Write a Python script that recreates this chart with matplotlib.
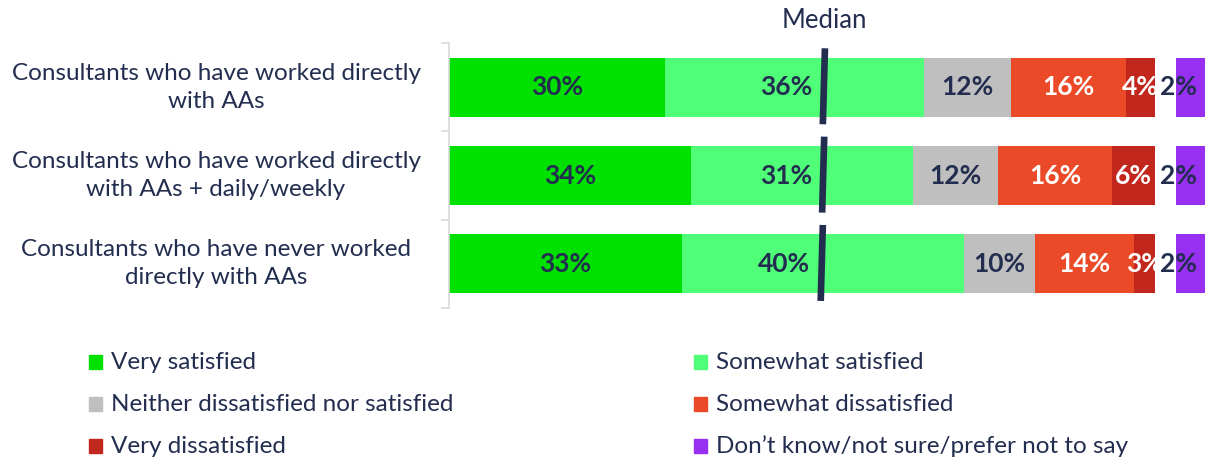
import matplotlib.pyplot as plt
from matplotlib.patches import Rectangle
import numpy as np

plt.rcParams['font.family'] = ['Lato', 'DejaVu Sans']

# Survey groups and response shares (%)
groups = [
    "Consultants who have worked directly\nwith AAs",
    "Consultants who have worked directly\nwith AAs + daily/weekly",
    "Consultants who have never worked\ndirectly with AAs",
]
responses = [
    "Very satisfied",
    "Somewhat satisfied",
    "Neither dissatisfied nor satisfied",
    "Somewhat dissatisfied",
    "Very dissatisfied",
]
very_satisfied = [30, 34, 33]
somewhat_satisfied = [36, 31, 40]
neither = [12, 12, 10]
somewhat_dissatisfied = [16, 16, 14]
very_dissatisfied = [4, 6, 3]
dont_know = [2, 2, 2]
dont_know_label = "Don\u2019t know/not sure/prefer not to say"
# median position on the bar scale
median_pos = [53.1, 53.0, 52.8]

navy = '#222d4f'
colors = ['#00e100', '#50ff78', '#bfbfbf', '#ea4a27', '#c1271c']
dk_color = '#9730f0'
text_colors = [navy, navy, navy, 'white', 'white']

series = np.array([very_satisfied, somewhat_satisfied, neither,
                   somewhat_dissatisfied, very_dissatisfied], dtype=float)
# scale each row so the five answers fill the bar
shares = series / series.sum(axis=0) * 100

fig = plt.figure(figsize=(12.05, 4.61), dpi=100)
ax = fig.add_axes([449 / 1205, 153 / 461, 706 / 1205, 265 / 461])
ax_dk = fig.add_axes([1176 / 1205, 153 / 461, 29 / 1205, 265 / 461])

y = np.arange(len(groups))
left = np.zeros(len(groups))
for i, name in enumerate(responses):
    ax.barh(y, shares[i], left=left, height=0.67, color=colors[i], label=name)
    for j in range(len(groups)):
        if i == 1:
            # keep the label left of the median marker
            tx, ha = median_pos[j] - 1.6, 'right'
        else:
            tx, ha = left[j] + shares[i][j] / 2, 'center'
        ax.text(tx, y[j], f"{int(series[i][j])}%", ha=ha, va='center',
                fontsize=19, fontweight='bold', color=text_colors[i], clip_on=True)
    left += shares[i]

# median markers
for j in range(len(groups)):
    ax.plot([median_pos[j] + 0.15, median_pos[j] - 0.15], [y[j] - 0.44, y[j] + 0.42],
            color=navy, lw=4.8, solid_capstyle='butt', zorder=5)

ax.set_xlim(0, 100)
ax.set_ylim(len(groups) - 0.5, -0.5)
ax.set_xticks([])
ax.set_yticks(np.arange(len(groups) + 1) - 0.5)
ax.set_yticklabels([])
ax.tick_params(axis='y', length=6, color='#d9d9d9', width=1.2)
for side in ['top', 'right', 'bottom']:
    ax.spines[side].set_visible(False)
ax.spines['left'].set_color('#d9d9d9')
ax.spines['left'].set_linewidth(1.2)

# group names, centred lines in a block to the left of the bars
for j, g in enumerate(groups):
    ax.text(-0.33, y[j], g, transform=ax.get_yaxis_transform(), ha='center',
            va='center', multialignment='center', fontsize=17.5, color=navy,
            linespacing=1.4)

# separate column for the "don't know" answers
ax_dk.barh(y, dont_know, height=0.67, color=dk_color)
for j in range(len(groups)):
    ax_dk.text(0.2, y[j], f"{dont_know[j]}%", ha='center', va='center',
               fontsize=19, fontweight='bold', color=navy, clip_on=False)
ax_dk.set_xlim(0, 2)
ax_dk.set_ylim(len(groups) - 0.5, -0.5)
ax_dk.axis('off')

fig.text(824 / 1205, 1 - 20 / 461, "Median", ha='center', va='center',
         fontsize=18.5, color=navy)

# legend laid out in two columns
legend_items = list(zip(responses, colors)) + [(dont_know_label, dk_color)]
col_x = [89, 694]
row_y = [362, 404, 446]
for k, (name, c) in enumerate(legend_items):
    col, row = k % 2, k // 2
    x0 = col_x[col]
    yc = row_y[row]
    fig.add_artist(Rectangle((x0 / 1205, (461 - yc - 7) / 461), 13 / 1205, 14 / 461,
                             transform=fig.transFigure, color=c))
    fig.text((x0 + 22) / 1205, 1 - yc / 461, name, ha='left', va='center',
             fontsize=17.5, color=navy)

fig.savefig('out.png', dpi=100)
